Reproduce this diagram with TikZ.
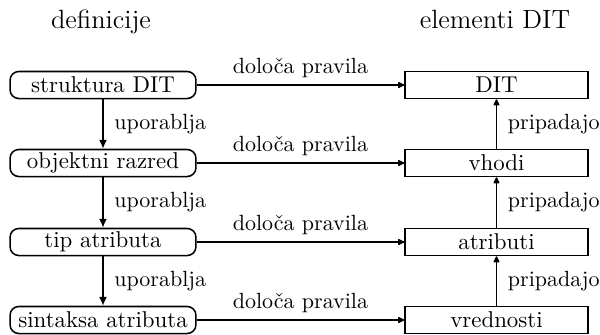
\documentclass[tikz,border=0pt]{standalone}
\usepackage{fontspec}
\usetikzlibrary{arrows.meta}
\begin{document}
\begin{tikzpicture}[x=0.4545pt,y=-0.4545pt,
  defbox/.style={draw, line width=0.7pt, rounded corners=4pt, minimum width=84.5pt, minimum height=12.3pt, inner sep=0pt, font=\fontsize{10.4}{12}\selectfont},
  elbox/.style={draw, line width=0.7pt, minimum width=83.2pt, minimum height=12.3pt, inner sep=0pt, font=\fontsize{10.4}{12}\selectfont},
  title/.style={anchor=base, font=\fontsize{12}{14}\selectfont},
  lbl/.style={font=\fontsize{10}{12}\selectfont},
  usesarrow/.style={line width=0.7pt, -{Latex[length=4pt,width=3.6pt]}},
  rulearrow/.style={line width=0.7pt, -{Latex[length=3.6pt,width=3.4pt,round]}}]
\useasboundingbox (0,0) rectangle (600,334);
\node[title] (t1) at (101,28) {definicije};
\node[title] (t2) at (495,28) {elementi DIT};
\node[defbox] (s1) at (103,85) {struktura DIT};
\node[defbox] (s2) at (103,163) {objektni razred};
\node[defbox] (s3) at (103,242) {tip atributa};
\node[defbox] (s4) at (103,320) {sintaksa atributa};
\node[elbox] (d1) at (496.5,85) {DIT};
\node[elbox] (d2) at (496.5,163) {vhodi};
\node[elbox] (d3) at (496.5,242) {atributi};
\node[elbox] (d4) at (496.5,320) {vrednosti};
\foreach \i in {1,2,3,4}{
  \draw[rulearrow] (s\i.east) -- node[lbl, above=-0.5pt] {določa pravila} (d\i.west);
}
\foreach \i/\j in {1/2,2/3,3/4}{
  \draw[usesarrow] (s\i.south) -- node[lbl, right=1.5pt] {uporablja} (s\j.north);
  \draw[rulearrow] (d\j.north) -- node[lbl, right=1.5pt] {pripadajo} (d\i.south);
}
\end{tikzpicture}
\end{document}
